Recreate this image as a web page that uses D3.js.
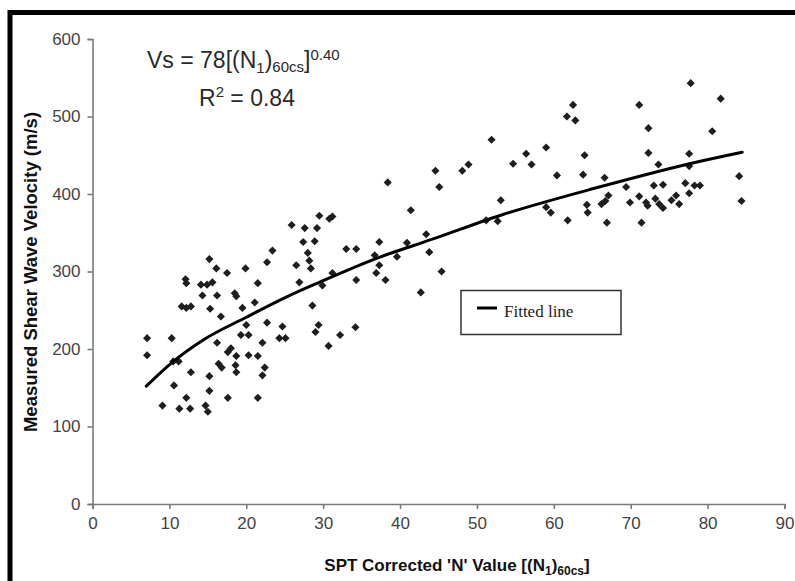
<!DOCTYPE html>
<html><head><meta charset="utf-8">
<script src="https://cdn.jsdelivr.net/npm/d3@7"></script>
<style>body{margin:0;background:#fff;}</style>
</head><body>
<svg id="chart" width="795" height="581"></svg>
<script>
// Scatter data: SPT corrected N value vs measured shear-wave velocity (m/s)
const nValues = [
  77.8, 81.7, 80.6, 84.1, 84.4, 78.3, 79.0, 77.6, 77.6,
  62.5, 71.1, 61.7, 62.8, 72.3, 59.0, 56.4, 64.0, 72.3, 54.7, 57.1, 73.6, 77.6,
  60.4, 63.8, 66.6, 69.4, 73.0, 74.2, 77.1, 53.1, 59.0, 59.6, 64.3, 64.4, 66.2,
  66.7, 67.1, 69.9, 71.1, 72.0, 72.2, 73.2, 73.7, 74.2, 75.3, 75.9, 76.3, 61.8,
  66.9, 71.4, 52.7,
  51.9, 38.4, 44.6, 45.1, 48.1, 48.9, 41.4, 29.5, 30.8, 31.2, 27.6, 29.2, 27.4,
  28.9, 28.0, 33.0, 34.3, 37.3, 36.7, 40.9, 43.4, 43.8, 51.2,
  28.2, 28.4, 26.9, 31.2, 29.9, 34.3, 37.3, 36.9, 38.1, 39.6, 45.4, 42.7, 28.6,
  29.4, 29.0, 32.2, 34.2, 30.7,
  25.9, 23.4, 15.2, 22.7, 26.5, 16.1, 19.9, 17.5, 12.1, 12.2, 14.1, 14.9, 15.6,
  21.5, 14.3, 16.2, 18.5, 18.7, 21.1, 11.6, 12.2, 12.8, 15.3, 19.5, 16.7, 22.7,
  24.7, 20.0, 7.1, 10.3, 19.3, 20.3, 24.3, 25.1, 7.1, 16.2, 22.1, 17.6, 18.0,
  18.7, 20.3, 21.5, 10.5, 11.2, 16.4, 16.8, 18.6, 18.7, 22.4, 12.8, 15.2, 22.1, 10.6,
  15.2, 12.2, 17.6, 21.5, 9.1, 11.3, 12.7, 14.7, 15.0
];
const vsValues = [
  543, 523, 481, 423, 391, 411, 411, 401, 452,
  515, 515, 500, 495, 485, 460, 452, 450, 453, 439, 438, 438, 436,
  424, 425, 421, 409, 411, 412, 414, 392, 383, 376, 386, 376, 387,
  391, 398, 389, 397, 389, 385, 394, 387, 382, 392, 398, 387, 366,
  363, 363, 365,
  470, 415, 430, 409, 430, 438, 379, 372, 368, 371, 356, 356, 338,
  339, 324, 329, 329, 338, 321, 337, 348, 325, 366,
  314, 304, 286, 298, 282, 289, 308, 298, 289, 319, 300, 273, 256,
  231, 222, 218, 228, 204,
  360, 327, 316, 312, 308, 304, 304, 298, 290, 285, 283, 283, 286,
  285, 269, 269, 272, 268, 260, 255, 253, 255, 252, 253, 242, 234,
  229, 231, 214, 214, 218, 218, 214, 214, 192, 208, 208, 196, 201,
  191, 192, 191, 184, 184, 181, 176, 179, 170, 176, 170, 165, 166, 153,
  146, 137, 137, 137, 127, 123, 123, 127, 119
];
// Fitted curve
const fitN  = [7, 10.4, 14.3, 20, 25.2, 29.5, 36.7, 44.3, 52.9, 65.9, 78.9, 84.5];
const fitVs = [152, 183, 211, 241, 267, 286, 316, 342, 372, 409, 442, 454];

const xTicks = [0, 10, 20, 30, 40, 50, 60, 70, 80, 90];
const yTicks = [0, 100, 200, 300, 400, 500, 600];
const legendLabel = "Fitted line";

const svg = d3.select("#chart");
const x = d3.scaleLinear().domain([0, 90]).range([92.5, 784.5]);
const y = d3.scaleLinear().domain([0, 600]).range([504, 39]);

// frame
svg.append("rect").attr("x", 10).attr("y", 12.5).attr("width", 820).attr("height", 620)
  .attr("fill", "none").attr("stroke", "#000").attr("stroke-width", 5);

const axisColor = "#7a7a7a";
const tickFont = "'Liberation Sans', Arial, sans-serif";

const gy = svg.append("g").attr("transform", `translate(${x(0)},0)`)
  .call(d3.axisLeft(y).tickValues(yTicks).tickSize(5).tickPadding(7).tickFormat(d3.format("d")));
const gx = svg.append("g").attr("transform", `translate(0,${y(0)})`)
  .call(d3.axisBottom(x).tickValues(xTicks).tickSize(5).tickPadding(8).tickFormat(d3.format("d")));
[gx, gy].forEach(g => {
  g.select(".domain").attr("stroke", axisColor).attr("stroke-width", 1.6);
  g.selectAll(".tick line").attr("stroke", axisColor).attr("stroke-width", 1.6);
  g.selectAll(".tick text").attr("fill", "#444").style("font-family", tickFont).style("font-size", "17px");
});

// points (rotated squares)
const sym = d3.symbol().type(d3.symbolSquare).size(33);
svg.append("g").selectAll("path").data(nValues.map((n, i) => [n, vsValues[i]]))
  .join("path")
  .attr("d", sym)
  .attr("transform", d => `translate(${x(d[0])},${y(d[1])}) rotate(45)`)
  .attr("fill", "#1e1e1e");

// fitted line
const line = d3.line().x(d => x(d[0])).y(d => y(d[1])).curve(d3.curveMonotoneX);
svg.append("path").datum(fitN.map((n, i) => [n, fitVs[i]]))
  .attr("d", line).attr("fill", "none").attr("stroke", "#000").attr("stroke-width", 3)
  .attr("stroke-linecap", "round");

// equation
const eq = svg.append("text").attr("x", 147).attr("y", 68)
  .style("font-family", tickFont).style("font-size", "23px").attr("fill", "#2a2a2a");
eq.append("tspan").text("Vs = 78[(N");
eq.append("tspan").attr("dy", 5).style("font-size", "15px").text("1");
eq.append("tspan").attr("dy", -5).text(")");
eq.append("tspan").attr("dy", 4).style("font-size", "15px").text("60cs");
eq.append("tspan").attr("dy", -4).text("]");
eq.append("tspan").attr("dy", -8).style("font-size", "15px").text("0.40");

const r2 = svg.append("text").attr("x", 199).attr("y", 106)
  .style("font-family", tickFont).style("font-size", "23px").attr("fill", "#2a2a2a");
r2.append("tspan").text("R");
r2.append("tspan").attr("dy", -9).style("font-size", "15px").text("2");
r2.append("tspan").attr("dy", 9).text(" = 0.84");

// axis titles
svg.append("text")
  .attr("transform", `translate(37,${272}) rotate(-90)`)
  .attr("text-anchor", "middle")
  .style("font-family", tickFont).style("font-size", "18.5px").style("font-weight", "bold")
  .attr("fill", "#111")
  .text("Measured Shear Wave Velocity (m/s)");

const xt = svg.append("text").attr("x", 457).attr("y", 571).attr("text-anchor", "middle")
  .style("font-family", tickFont).style("font-size", "17px").style("font-weight", "bold")
  .attr("fill", "#111");
xt.append("tspan").text("SPT Corrected 'N' Value [(N");
xt.append("tspan").attr("dy", 4).style("font-size", "12px").text("1");
xt.append("tspan").attr("dy", -4).text(")");
xt.append("tspan").attr("dy", 4).style("font-size", "12px").text("60cs");
xt.append("tspan").attr("dy", -4).text("]");

// legend
const lg = svg.append("g");
lg.append("rect").attr("x", 461).attr("y", 290.5).attr("width", 160).attr("height", 44)
  .attr("fill", "#fff").attr("stroke", "#333").attr("stroke-width", 1.5);
lg.append("line").attr("x1", 477).attr("x2", 497).attr("y1", 308).attr("y2", 308)
  .attr("stroke", "#000").attr("stroke-width", 3);
lg.append("text").attr("x", 504).attr("y", 317)
  .style("font-family", "'Liberation Serif', 'Times New Roman', serif").style("font-size", "17px")
  .attr("fill", "#222").text(legendLabel);
</script>
</body></html>
